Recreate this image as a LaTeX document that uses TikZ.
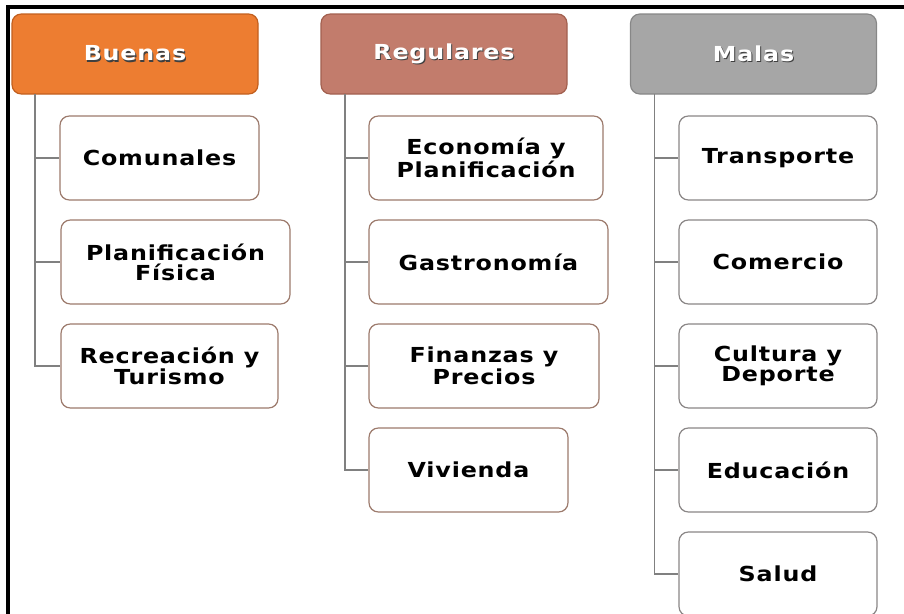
\documentclass[tikz,border=0pt]{standalone}
\usepackage{fontspec}
\setmainfont{DejaVu Sans}
\newfontfamily\boxfont{DejaVu Sans}[FakeStretch=1.15,LetterSpace=4]
\definecolor{orangeF}{HTML}{ED7D31}
\definecolor{orangeD}{HTML}{C25F1E}
\definecolor{regF}{HTML}{C27C6C}
\definecolor{regD}{HTML}{A2604F}
\definecolor{grayF}{HTML}{A6A6A6}
\definecolor{grayD}{HTML}{878787}
\definecolor{brownL}{HTML}{9C7A6C}
\definecolor{grayL}{HTML}{8A8686}
\definecolor{connC}{HTML}{808080}
\newcommand\shtext[1]{\makebox[0pt][l]{\raisebox{-0.06em}{\hspace{0.05em}\textcolor{black!75}{#1}}}\textcolor{white}{#1}}
\begin{document}
\begin{tikzpicture}[x=0.75pt,y=-0.75pt,
  hdr/.style={draw, line width=0.9pt, rounded corners=7pt, minimum width=184.5pt, minimum height=60pt, inner sep=0pt, font=\boxfont\bfseries\fontsize{15.5}{16}\selectfont},
  child/.style={draw=brownL, fill=white, line width=0.9pt, rounded corners=7pt, minimum height=63pt, inner sep=0pt, align=center, font=\boxfont\bfseries\fontsize{15.5}{15}\selectfont},
  childg/.style={child, draw=grayL},
  conn/.style={draw=connC, line width=0.8pt}]
\useasboundingbox (0,0) rectangle (904,614);
\clip (0,0) rectangle (904,614);
% headers
\node[hdr, fill=orangeF, draw=orangeD] (h1) at (135,54) {\shtext{Buenas}};
\node[hdr, fill=regF, draw=regD] (h2) at (444,54) {\shtext{Regulares}};
\node[hdr, fill=grayF, draw=grayD] (h3) at (753.5,54) {\shtext{Malas}};
\coordinate (b1) at (35,94);
\coordinate (b2) at (345,94);
\coordinate (b3) at (654.5,94);
% column 1
\node[child, minimum width=149.25pt] (c11) at (159.5,158) {Comunales};
\node[child, minimum width=171.75pt] (c12) at (175.5,262) {Planificación\\Física};
\node[child, minimum width=162.75pt] (c13) at (169.5,366) {Recreación y\\Turismo};
% column 2
\node[child, minimum width=175.5pt] (c21) at (486,158) {Economía y\\Planificación};
\node[child, minimum width=179.25pt] (c22) at (488.5,262) {Gastronomía};
\node[child, minimum width=172.5pt] (c23) at (484,366) {Finanzas y\\Precios};
\node[child, minimum width=149.25pt] (c24) at (468.5,470) {Vivienda};
% column 3
\node[childg, minimum width=148.5pt] (c31) at (778,158) {Transporte};
\node[childg, minimum width=148.5pt] (c32) at (778,262) {Comercio};
\node[childg, minimum width=148.5pt] (c33) at (778,366) {Cultura y\\Deporte};
\node[childg, minimum width=148.5pt] (c34) at (778,470) {Educación};
\node[childg, minimum width=148.5pt] (c35) at (778,574) {Salud};
% connectors
\foreach \c in {c11,c12,c13} \draw[conn] (b1) |- (\c.west);
\foreach \c in {c21,c22,c23,c24} \draw[conn] (b2) |- (\c.west);
\foreach \c in {c31,c32,c33,c34,c35} \draw[conn] (b3) |- (\c.west);
% frame
\draw[line width=3pt] (8,614) -- (8,7) -- (904,7);
\end{tikzpicture}
\end{document}
